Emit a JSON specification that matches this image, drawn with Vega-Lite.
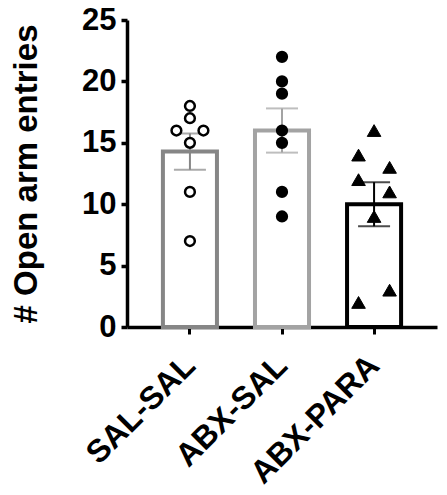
{
  "$schema": "https://vega.github.io/schema/vega-lite/v6.json",
  "width": 310,
  "height": 307,
  "autosize": {"type": "none"},
  "padding": {"left": 127, "top": 20, "right": 10, "bottom": 168},
  "config": {"view": {"stroke": null}, "font": "Liberation Sans"},
  "data": {
    "values": [
      {"group": "SAL-SAL", "value": 18, "slot": "C"},
      {"group": "SAL-SAL", "value": 17, "slot": "C"},
      {"group": "SAL-SAL", "value": 16, "slot": "L"},
      {"group": "SAL-SAL", "value": 16, "slot": "R"},
      {"group": "SAL-SAL", "value": 15, "slot": "C"},
      {"group": "SAL-SAL", "value": 11, "slot": "C"},
      {"group": "SAL-SAL", "value": 7, "slot": "C"},
      {"group": "ABX-SAL", "value": 22, "slot": "C"},
      {"group": "ABX-SAL", "value": 20, "slot": "C"},
      {"group": "ABX-SAL", "value": 19, "slot": "C"},
      {"group": "ABX-SAL", "value": 16, "slot": "C"},
      {"group": "ABX-SAL", "value": 15, "slot": "C"},
      {"group": "ABX-SAL", "value": 11, "slot": "C"},
      {"group": "ABX-SAL", "value": 9, "slot": "C"},
      {"group": "ABX-PARA", "value": 16, "slot": "C"},
      {"group": "ABX-PARA", "value": 14, "slot": "L"},
      {"group": "ABX-PARA", "value": 13, "slot": "R"},
      {"group": "ABX-PARA", "value": 12, "slot": "L"},
      {"group": "ABX-PARA", "value": 11, "slot": "R"},
      {"group": "ABX-PARA", "value": 9, "slot": "C"},
      {"group": "ABX-PARA", "value": 3, "slot": "R"},
      {"group": "ABX-PARA", "value": 2, "slot": "L"}
    ]
  },
  "encoding": {
    "x": {
      "field": "group",
      "type": "nominal",
      "sort": ["SAL-SAL", "ABX-SAL", "ABX-PARA"],
      "scale": {"paddingInner": 0.413, "paddingOuter": 0.39},
      "axis": {
        "title": null,
        "labelAngle": -45,
        "labelAlign": "right",
        "labelBaseline": "middle",
        "labelFontSize": 32,
        "labelFontWeight": "bold",
        "labelColor": "black",
        "labelPadding": 26,
        "tickSize": 7,
        "tickWidth": 3,
        "tickColor": "black",
        "domainWidth": 3.5,
        "domainColor": "black",
        "grid": false
      }
    },
    "y": {
      "field": "value",
      "type": "quantitative",
      "scale": {"domain": [0, 25], "nice": false},
      "axis": {
        "title": "# Open arm entries",
        "titleFontSize": 33,
        "titleFontWeight": "bold",
        "titleColor": "black",
        "titlePadding": 38,
        "values": [0, 5, 10, 15, 20, 25],
        "labelFontSize": 31,
        "labelFontWeight": "bold",
        "labelColor": "black",
        "labelPadding": 5,
        "tickSize": 6,
        "tickWidth": 3.5,
        "tickColor": "black",
        "domainWidth": 3.5,
        "domainColor": "black",
        "grid": false
      }
    }
  },
  "layer": [
    {
      "mark": {"type": "bar", "fill": "white", "strokeWidth": 4},
      "encoding": {
        "y": {"aggregate": "mean", "field": "value", "type": "quantitative"},
        "stroke": {
          "field": "group",
          "type": "nominal",
          "scale": {"domain": ["SAL-SAL", "ABX-SAL", "ABX-PARA"], "range": ["#868686", "#a3a3a3", "#000000"]},
          "legend": null
        }
      }
    },
    {
      "mark": {"type": "errorbar", "extent": "stderr", "thickness": 2, "ticks": {"size": 32, "thickness": 2}},
      "encoding": {
        "y": {"field": "value", "type": "quantitative"},
        "color": {
          "field": "group",
          "type": "nominal",
          "scale": {"domain": ["SAL-SAL", "ABX-SAL", "ABX-PARA"], "range": ["#868686", "#a3a3a3", "#000000"]},
          "legend": null
        }
      }
    },
    {
      "transform": [{"filter": "datum.group !== 'ABX-PARA'"}],
      "mark": {"type": "point", "shape": "circle", "filled": true, "stroke": "black", "strokeWidth": 2.5, "size": 95, "opacity": 1},
      "encoding": {
        "xOffset": {"field": "slot", "type": "nominal", "scale": {"type": "point", "domain": ["L", "C", "R"], "padding": 1.25}},
        "fill": {
          "field": "group",
          "type": "nominal",
          "scale": {"domain": ["SAL-SAL", "ABX-SAL"], "range": ["white", "black"]},
          "legend": null
        }
      }
    },
    {
      "transform": [{"filter": "datum.group === 'ABX-PARA'"}],
      "mark": {"type": "point", "shape": "triangle-up", "filled": true, "fill": "black", "stroke": "black", "strokeWidth": 1, "size": 185, "opacity": 1},
      "encoding": {
        "xOffset": {"field": "slot", "type": "nominal", "scale": {"type": "point", "domain": ["L", "C", "R"], "padding": 0.74}}
      }
    }
  ],
  "resolve": {"scale": {"xOffset": "independent"}}
}
